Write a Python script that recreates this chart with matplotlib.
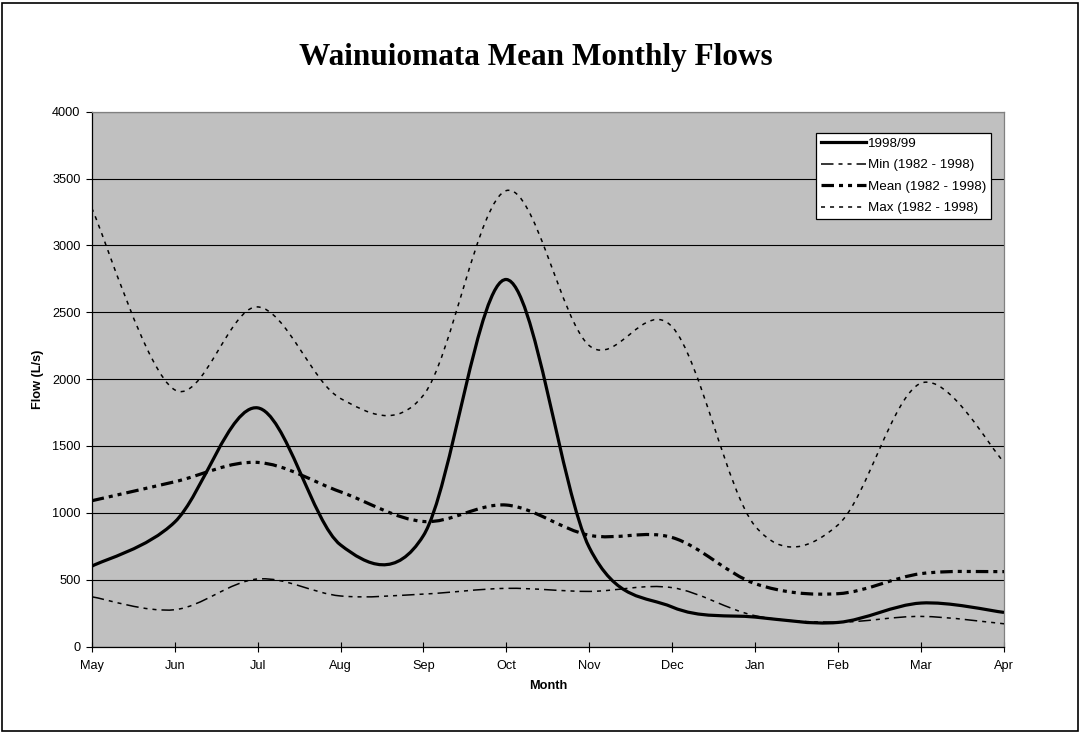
import matplotlib
matplotlib.use("Agg")
import matplotlib.pyplot as plt
from matplotlib.path import Path
from matplotlib.patches import PathPatch, Rectangle
from matplotlib.lines import Line2D
import numpy as np

plt.rcParams['font.family'] = ['Liberation Sans', 'DejaVu Sans']
plt.rcParams['lines.scale_dashes'] = False

months = ["May", "Jun", "Jul", "Aug", "Sep", "Oct", "Nov", "Dec", "Jan", "Feb", "Mar", "Apr"]
flow_1998_99 = [600, 930, 1785, 760, 830, 2745, 740, 295, 220, 180, 325, 255]
min_1982_1998 = [372, 275, 505, 378, 392, 435, 412, 440, 230, 182, 225, 170]
mean_1982_1998 = [1090, 1232, 1377, 1157, 935, 1058, 832, 815, 470, 395, 545, 560]
max_1982_1998 = [3280, 1920, 2540, 1855, 1880, 3410, 2250, 2390, 900, 910, 1970, 1380]
y_ticks = [0, 500, 1000, 1500, 2000, 2500, 3000, 3500, 4000]

series = [
    ("1998/99", flow_1998_99, dict(lw=2.3, ls='-')),
    ("Min (1982 - 1998)", min_1982_1998, dict(lw=1.1, ls=(0, (9, 3.6, 2.9, 3.6, 2.9, 3.6)))),
    ("Mean (1982 - 1998)", mean_1982_1998, dict(lw=2.3, ls=(0, (9, 3.6, 2.9, 3.6, 2.9, 3.6)))),
    ("Max (1982 - 1998)", max_1982_1998, dict(lw=1.1, ls=(0, (2.9, 3.6)))),
]


def smooth_path(xs, ys):
    pts = np.column_stack([xs, ys]).astype(float)
    n = len(pts)
    verts = [tuple(pts[0])]
    codes = [Path.MOVETO]
    for i in range(n - 1):
        p0 = pts[i - 1] if i > 0 else pts[i]
        p1 = pts[i]
        p2 = pts[i + 1]
        p3 = pts[i + 2] if i + 2 < n else pts[i + 1]
        c1 = p1 + (p2 - p0) / 6.0
        c2 = p2 - (p3 - p1) / 6.0
        verts += [tuple(c1), tuple(c2), tuple(p2)]
        codes += [Path.CURVE4] * 3
    return Path(verts, codes)


fig = plt.figure(figsize=(10.81, 7.33), dpi=100)
ax = fig.add_axes([91.7 / 1081, 1 - 646.5 / 733, (1004 - 91.7) / 1081, (646.5 - 111.7) / 733])
ax.set_facecolor('#C0C0C0')

x = np.arange(len(months))
handles = []
for label, vals, st in series:
    patch = PathPatch(smooth_path(x, vals), facecolor='none', edgecolor='black',
                      lw=st['lw'], linestyle=st['ls'], capstyle='butt', joinstyle='round', zorder=3)
    ax.add_patch(patch)
    handles.append(Line2D([], [], color='black', lw=st['lw'], linestyle=st['ls'],
                          dash_capstyle='butt', label=label))

ax.set_xlim(0, len(months) - 1)
ax.set_ylim(0, 4000)
ax.set_xticks(x)
ax.set_xticklabels(months)
ax.set_yticks(y_ticks)
ax.set_yticklabels([str(v) for v in y_ticks])
ax.yaxis.grid(True, color='black', lw=0.8)
ax.set_axisbelow(True)
ax.tick_params(axis='x', direction='inout', length=7, width=0.8, labelsize=9.2, pad=6)
ax.tick_params(axis='y', direction='out', length=4, width=0.8, labelsize=9.2, pad=4)
for s in ['left', 'bottom']:
    ax.spines[s].set_color('black')
    ax.spines[s].set_linewidth(0.9)
for s in ['top', 'right']:
    ax.spines[s].set_color('#808080')
    ax.spines[s].set_linewidth(0.9)

ax.set_xlabel("Month", fontsize=9.2, fontweight='bold', labelpad=6)
ax.set_ylabel("Flow (L/s)", fontsize=9.2, fontweight='bold', labelpad=6)

fig.text(536 / 1081, 1 - 57 / 733, "Wainuiomata Mean Monthly Flows", ha='center', va='center',
         fontsize=22.5, fontweight='bold', family=['Liberation Serif', 'DejaVu Serif'])

leg = ax.legend(handles=handles, loc='upper left', bbox_to_anchor=((816 - 91.7) / (1004 - 91.7), (646.5 - 133) / (646.5 - 111.7)),
                fontsize=9.6, frameon=True, fancybox=False, framealpha=1, edgecolor='black',
                handlelength=3.4, handletextpad=0.12, borderpad=0.35, labelspacing=0.68, borderaxespad=0)
leg.get_frame().set_linewidth(0.9)

fig.patches.append(Rectangle((2 / 1081, 2 / 733), 1 - 5 / 1081, 1 - 5 / 733, transform=fig.transFigure,
                             fill=False, edgecolor='black', lw=1.2))

fig.savefig("out.png", dpi=100)
